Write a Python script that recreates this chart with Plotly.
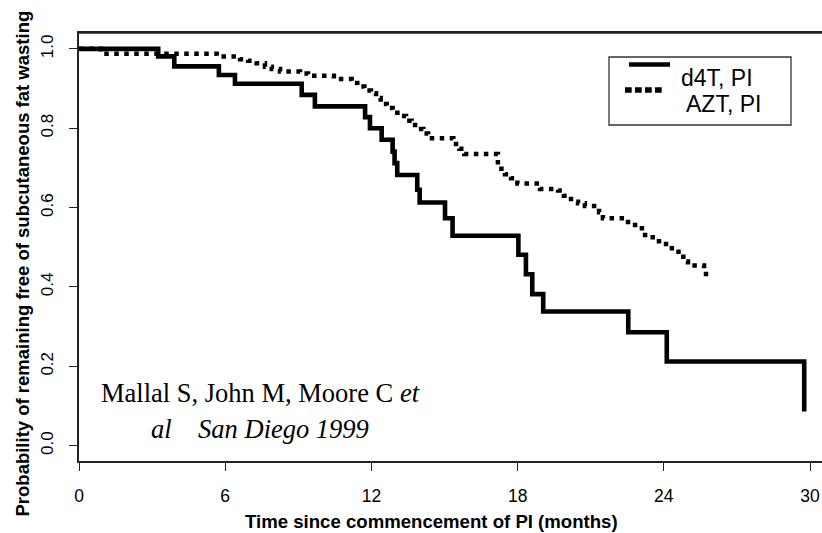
import plotly.graph_objects as go

# ---- data ----
d4t_time = [0, 3.25, 3.91, 5.74, 6.40, 9.14, 9.68, 11.74, 11.94, 12.42,
            12.87, 12.95, 13.06, 13.88, 13.98, 15.02, 15.33, 18.03, 18.34, 18.60,
            19.05, 22.54, 24.12, 29.76]
d4t_surv = [1.0, 0.981, 0.956, 0.934, 0.912, 0.884, 0.855, 0.828, 0.800, 0.771,
            0.741, 0.712, 0.682, 0.645, 0.613, 0.573, 0.529, 0.481, 0.432, 0.382,
            0.338, 0.286, 0.212, 0.086]

azt_time = [0, 0.9, 5.65, 6.61, 6.94, 7.29, 7.63, 7.91, 8.25, 9.07,
            9.40, 10.46, 11.19, 11.42, 11.71, 11.98, 12.19, 12.38, 12.63, 12.87,
            13.17, 13.42, 13.65, 13.90, 14.13, 14.33, 15.36, 15.61, 15.81, 17.19,
            17.48, 17.73, 17.99, 18.92, 19.66, 19.90, 20.19, 20.48, 20.76, 21.34,
            21.50, 22.53, 23.10, 23.23, 23.80, 24.33, 24.80, 24.99, 25.65, 25.73]
azt_surv = [1.0, 0.988, 0.981, 0.974, 0.970, 0.964, 0.955, 0.949, 0.943, 0.938,
            0.932, 0.924, 0.914, 0.905, 0.895, 0.888, 0.876, 0.861, 0.851, 0.839,
            0.831, 0.819, 0.808, 0.798, 0.787, 0.775, 0.760, 0.748, 0.735, 0.698,
            0.684, 0.674, 0.661, 0.647, 0.643, 0.630, 0.615, 0.611, 0.604, 0.588,
            0.573, 0.556, 0.542, 0.525, 0.508, 0.489, 0.464, 0.454, 0.443, 0.418]

series_names = ["d4T, PI", "AZT, PI"]
x_ticks = [0, 6, 12, 18, 24, 30]
y_ticks = [0.0, 0.2, 0.4, 0.6, 0.8, 1.0]
y_tick_text = ["0.0", "0.2", "0.4", "0.6", "0.8", "1.0"]
x_title = "Time since commencement of PI (months)"
y_title = "Probability of remaining free of subcutaneous fat wasting"
note_line1 = "Mallal S, John M, Moore C <i>et</i>"
note_line2 = "<i>al\u00a0\u00a0\u00a0\u00a0San Diego 1999</i>"

# ---- layout geometry ----
W, H = 822, 533
L, R, T, B = 79, 0, 33, 72
PW, PH = W - L - R, H - T - B

def px_x(px):
    return (px - L) / PW

def px_y(py):
    return (H - B - py) / PH

SANS = "Liberation Sans, Arial, sans-serif"
SERIF = "Liberation Serif, Times New Roman, serif"
INK = "#000000"
AX = "#222222"

fig = go.Figure()
fig.add_trace(go.Scatter(x=azt_time, y=azt_surv, mode="lines", line_shape="hv",
                         name=series_names[1],
                         line=dict(color=INK, width=4.5, dash="4.5px,5.5px")))
fig.add_trace(go.Scatter(x=d4t_time, y=d4t_surv, mode="lines", line_shape="hv",
                         name=series_names[0],
                         line=dict(color=INK, width=4.6)))

fig.update_layout(
    width=W, height=H,
    margin=dict(l=L, r=R, t=T, b=B, pad=0),
    paper_bgcolor="white", plot_bgcolor="white",
    showlegend=False,
    font=dict(family=SANS, color=INK, size=17),
)
fig.update_xaxes(range=[0, 30.49], tickvals=x_ticks, ticktext=[str(v) for v in x_ticks],
                 ticks="outside", ticklen=8, tickwidth=1.2, tickcolor=AX,
                 showline=True, linecolor=AX, linewidth=1.5, mirror=True,
                 showgrid=False, zeroline=False, ticklabelstandoff=10,
                 tickfont=dict(size=17.5, family=SANS))
fig.update_yaxes(range=[-0.0386, 1.040], tickvals=y_ticks, ticktext=y_tick_text,
                 ticks="outside", ticklen=8, tickwidth=1.2, tickcolor=AX,
                 showline=True, linecolor=AX, linewidth=1.5, mirror=False,
                 showgrid=False, zeroline=False, tickangle=-90, ticklabelstandoff=9,
                 tickfont=dict(size=17, family=SANS))

ann = []
ann.append(dict(text="<b>" + x_title + "</b>", x=px_x(431), y=px_y(521), xref="paper", yref="paper",
                xanchor="center", yanchor="middle", showarrow=False,
                font=dict(size=18.6, family=SANS, color=INK)))
ann.append(dict(text="<b>" + y_title + "</b>", x=px_x(22), y=px_y(263.5), xref="paper", yref="paper",
                xanchor="center", yanchor="middle", showarrow=False, textangle=-90,
                font=dict(size=18.5, family=SANS, color=INK)))
ann.append(dict(text=note_line1, x=px_x(260), y=px_y(393), xref="paper", yref="paper",
                xanchor="center", yanchor="middle", showarrow=False,
                font=dict(size=26.5, family=SERIF, color=INK)))
ann.append(dict(text=note_line2, x=px_x(260), y=px_y(429), xref="paper", yref="paper",
                xanchor="center", yanchor="middle", showarrow=False,
                font=dict(size=26.5, family=SERIF, color=INK)))
# legend texts
ann.append(dict(text=series_names[0], x=px_x(679), y=px_y(78), xref="paper", yref="paper",
                xanchor="left", yanchor="middle", showarrow=False,
                font=dict(size=23, family=SANS, color=INK)))
ann.append(dict(text=series_names[1], x=px_x(684), y=px_y(104), xref="paper", yref="paper",
                xanchor="left", yanchor="middle", showarrow=False,
                font=dict(size=23, family=SANS, color=INK)))
fig.update_layout(annotations=ann)

shapes = []
shapes.append(dict(type="line", xref="paper", yref="paper", x0=0, x1=1, y0=1, y1=1,
                   line=dict(color=AX, width=1.5), layer="above"))
shapes.append(dict(type="rect", xref="paper", yref="paper",
                   x0=px_x(609), x1=px_x(791), y0=px_y(57), y1=px_y(125),
                   line=dict(color="#333333", width=1.3), fillcolor="white", layer="above"))
shapes.append(dict(type="line", xref="paper", yref="paper",
                   x0=px_x(629), x1=px_x(670), y0=px_y(64.5), y1=px_y(64.5),
                   line=dict(color=INK, width=4.5), layer="above"))
shapes.append(dict(type="line", xref="paper", yref="paper",
                   x0=px_x(625), x1=px_x(662), y0=px_y(90), y1=px_y(90),
                   line=dict(color=INK, width=5.3, dash="6.7px,3.3px"), layer="above"))
fig.update_layout(shapes=shapes)

fig.write_html("out.html")
